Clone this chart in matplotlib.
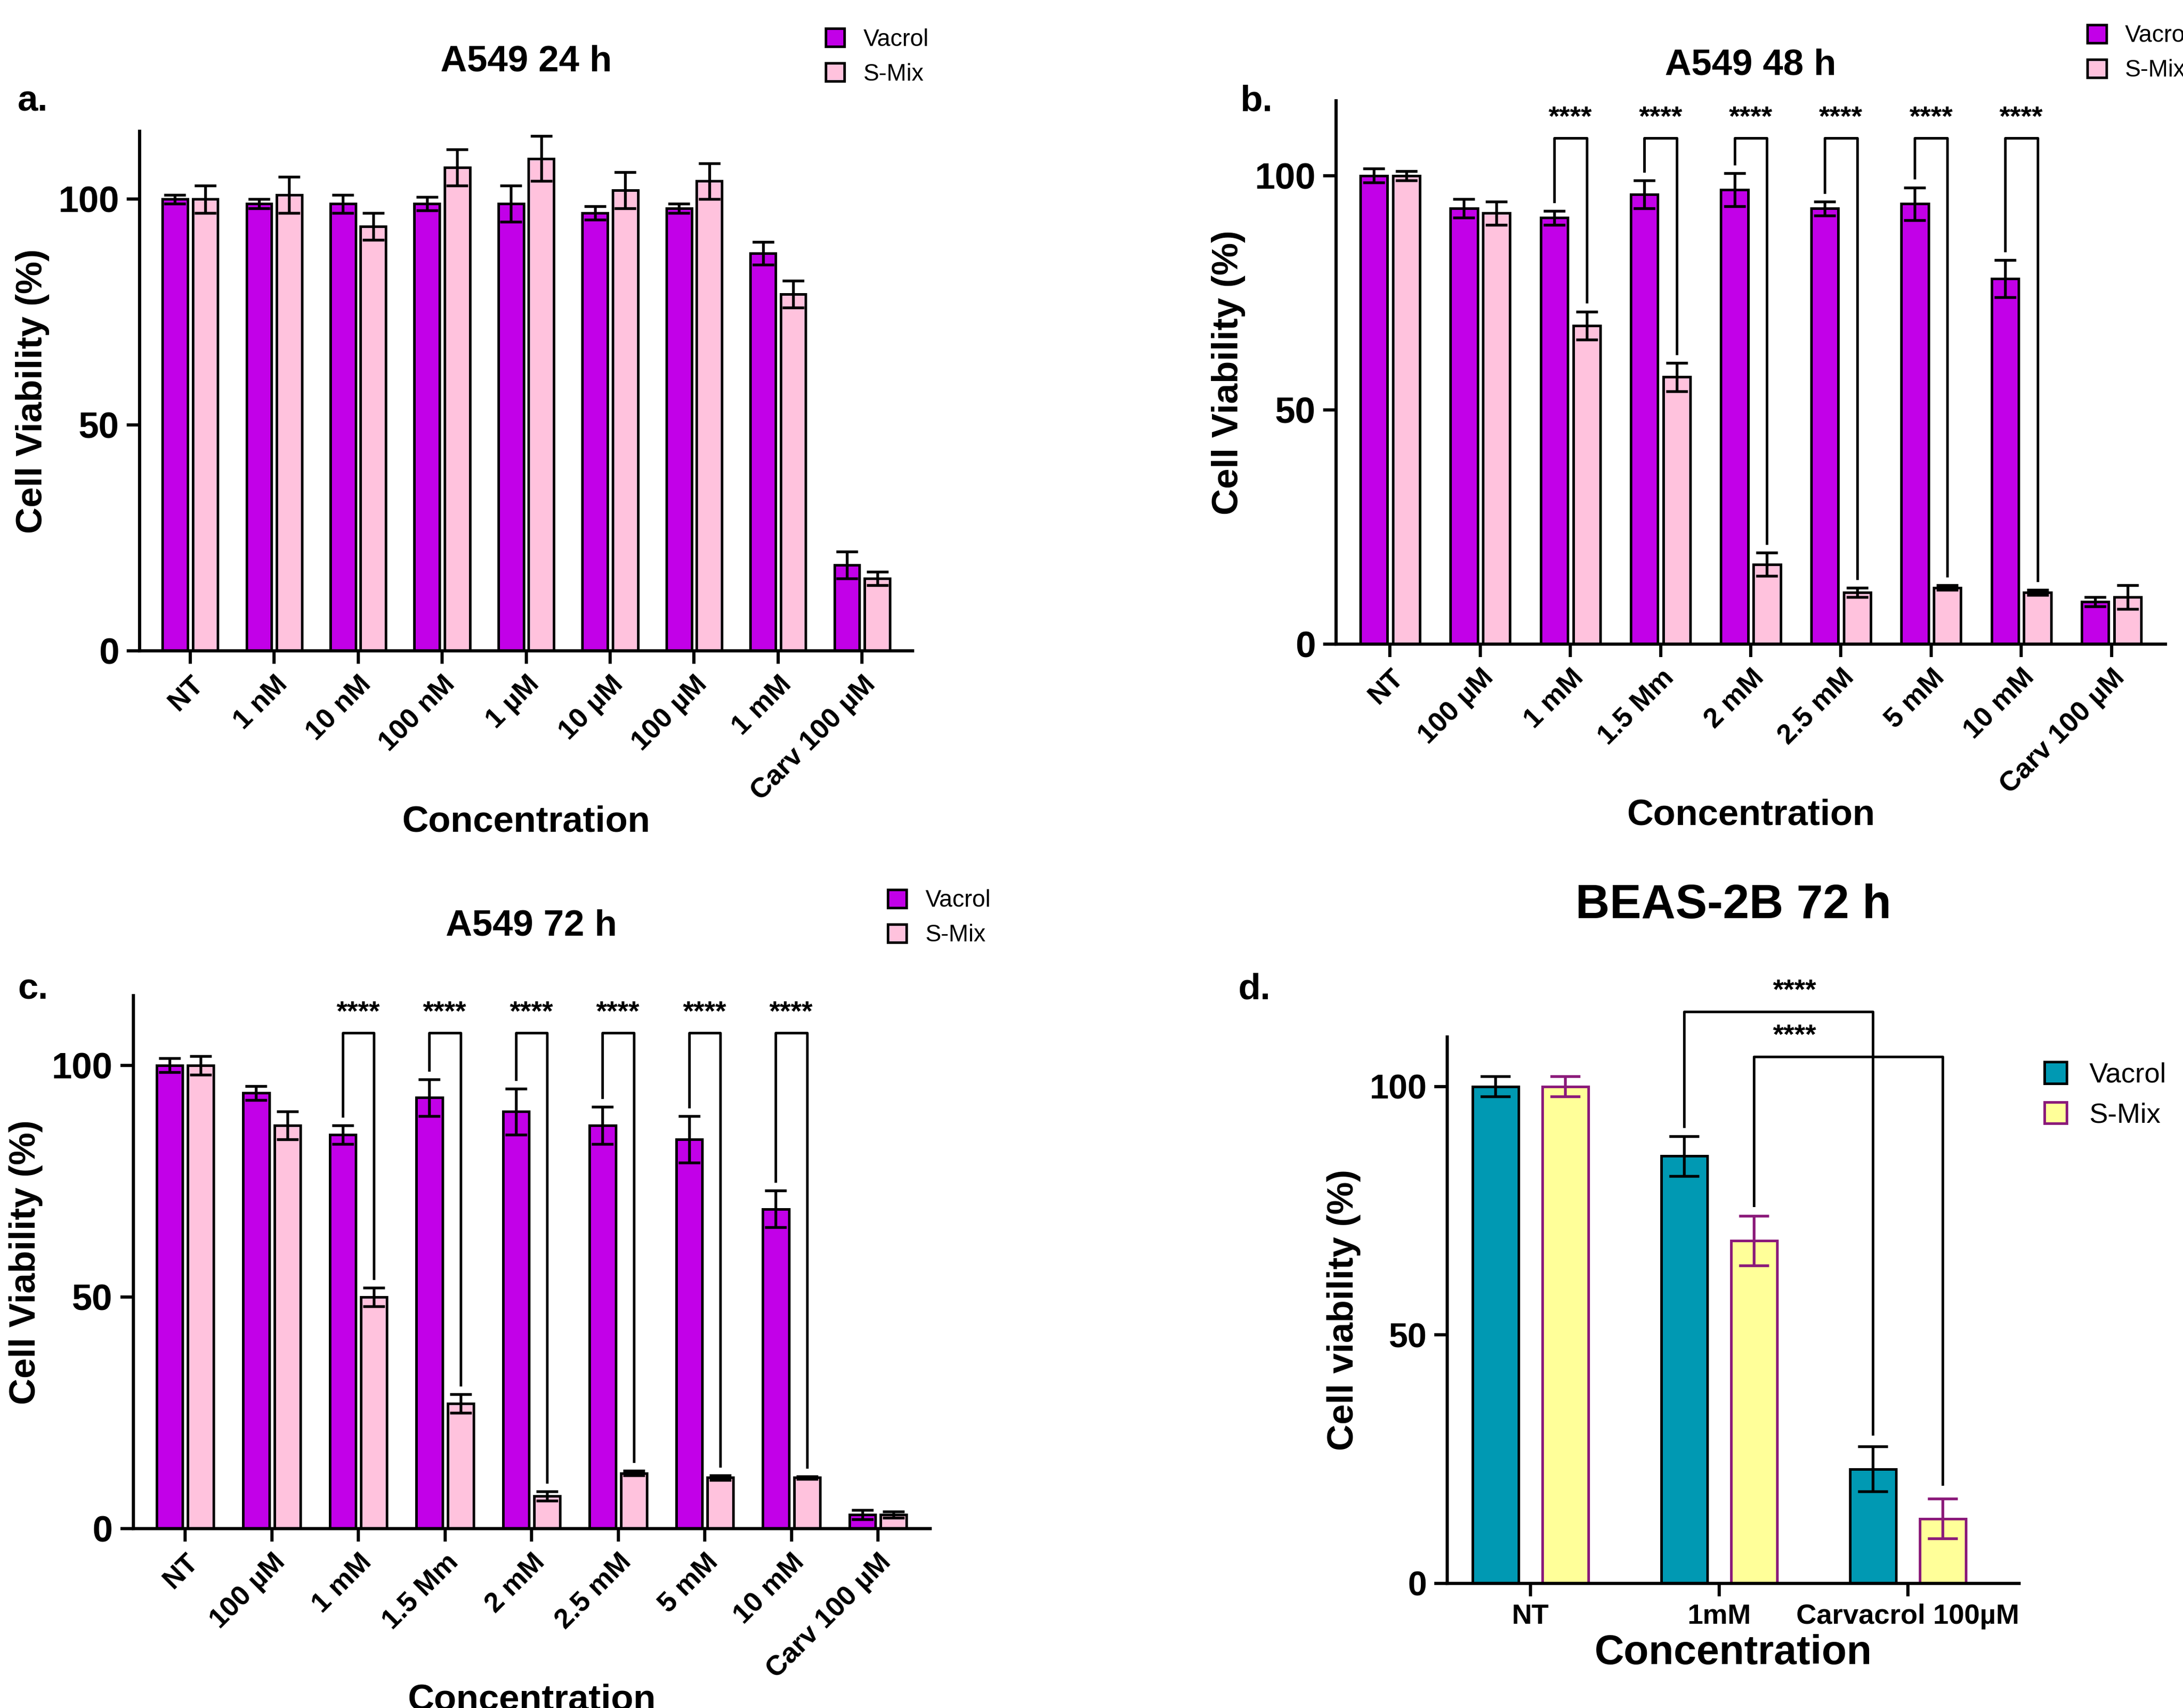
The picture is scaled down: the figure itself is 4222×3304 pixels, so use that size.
import numpy as np
from matplotlib import pyplot as plt

plt.rcParams['font.family'] = ['Liberation Sans', 'DejaVu Sans']
plt.rcParams['font.weight'] = 'bold'

PURPLE = '#C200E8'
PINK = '#FFC2DD'
TEAL = '#0099B3'
YELLOW = '#FFFF99'

lab_a = ['NT', '1 nM', '10 nM', '100 nM', '1 µM', '10 µM', '100 µM', '1 mM', 'Carv 100 µM']
va_a = [100, 99, 99, 99, 99, 97, 98, 88, 19]
va_a_err = [1, 1, 2, 1.5, 4, 1.5, 1, 2.5, 3]
sm_a = [100, 101, 94, 107, 109, 102, 104, 79, 16]
sm_a_err = [3, 4, 3, 4, 5, 4, 4, 3, 1.5]

lab_bc = ['NT', '100 µM', '1 mM', '1.5 Mm', '2 mM', '2.5 mM', '5 mM', '10 mM', 'Carv 100 µM']
va_b = [100, 93, 91, 96, 97, 93, 94, 78, 9]
va_b_err = [1.5, 2, 1.5, 3, 3.5, 1.5, 3.5, 4, 1]
sm_b = [100, 92, 68, 57, 17, 11, 12, 11, 10]
sm_b_err = [1, 2.5, 3, 3, 2.5, 1, 0.5, 0.5, 2.5]

va_c = [100, 94, 85, 93, 90, 87, 84, 69, 3]
va_c_err = [1.5, 1.5, 2, 4, 5, 4, 5, 4, 1]
sm_c = [100, 87, 50, 27, 7, 12, 11, 11, 3]
sm_c_err = [2, 3, 2, 2, 1, 0.5, 0.5, 0.3, 0.7]

lab_d = ['NT', '1mM', 'Carvacrol 100µM']
va_d = [100, 86, 23]
va_d_err = [2, 4, 4.5]
sm_d = [100, 69, 13]
sm_d_err = [2, 5, 4]

sig_groups = [2, 3, 4, 5, 6, 7]


def panel(ax, labels, va, va_err, sm, sm_err, title, top, sig_y=None, leg=(0.87, 1.22), pad=28):
    x = np.arange(len(labels))
    w = 0.3
    ek = dict(elinewidth=1.3, capsize=5, capthick=1.3, ecolor='black')
    ax.bar(x - 0.18, va, w, yerr=va_err, color=PURPLE, edgecolor='black', linewidth=1.2, error_kw=ek, label='Vacrol')
    ax.bar(x + 0.18, sm, w, yerr=sm_err, color=PINK, edgecolor='black', linewidth=1.2, error_kw=ek, label='S-Mix')
    if sig_y is not None:
        for i in sig_groups:
            y1 = va[i] + va_err[i] + 2
            y2 = sm[i] + sm_err[i] + 2
            ax.plot([i - 0.18, i - 0.18, i + 0.18, i + 0.18], [y1, sig_y, sig_y, y2], color='black', lw=1.2)
            ax.text(i, sig_y + 1.5, '****', ha='center', va='bottom', fontsize=13, fontweight='bold')
    ax.set_xlim(-0.6, len(labels) - 0.4)
    ax.set_ylim(0, top)
    ax.set_yticks([0, 50, 100])
    ax.set_xticks(x)
    ax.set_xticklabels(labels, rotation=45, ha='right', rotation_mode='anchor', fontsize=13, fontweight='bold')
    ax.tick_params(axis='y', labelsize=17, width=1.5, length=6)
    ax.tick_params(axis='x', width=1.5, length=6)
    for s in ['top', 'right']:
        ax.spines[s].set_visible(False)
    for s in ['left', 'bottom']:
        ax.spines[s].set_linewidth(1.5)
    ax.set_ylabel('Cell Viability (%)', fontsize=17, fontweight='bold')
    ax.set_xlabel('Concentration', fontsize=17, fontweight='bold', labelpad=0)
    ax.set_title(title, fontsize=17, fontweight='bold', pad=pad)
    ax.legend(loc='upper left', bbox_to_anchor=leg, frameon=False,
              handlelength=0.8, handleheight=0.8, prop={'weight': 'normal', 'size': 11})


fig = plt.figure(figsize=(4222 / 300, 3304 / 300), dpi=300)
ax_a = fig.add_axes([0.064, 0.619, 0.354, 0.304])
ax_b = fig.add_axes([0.612, 0.623, 0.380, 0.318])
ax_c = fig.add_axes([0.061, 0.105, 0.365, 0.312])
ax_d = fig.add_axes([0.663, 0.073, 0.262, 0.320])

panel(ax_a, lab_a, va_a, va_a_err, sm_a, sm_a_err, 'A549 24 h', 115, leg=(0.86, 1.24))
panel(ax_b, lab_bc, va_b, va_b_err, sm_b, sm_b_err, 'A549 48 h', 116, sig_y=108, leg=(0.88, 1.18), pad=12)
panel(ax_c, lab_bc, va_c, va_c_err, sm_c, sm_c_err, 'A549 72 h', 115, sig_y=107, leg=(0.92, 1.24))

# panel d
x = np.arange(len(lab_d))
off, bw = 0.185, 0.245
ek = dict(elinewidth=1.3, capsize=7, capthick=1.3)
ax_d.bar(x - off, va_d, bw, yerr=va_d_err, color=TEAL, edgecolor='black', linewidth=1.2,
         error_kw=dict(ek, ecolor='black'), label='Vacrol')
ax_d.bar(x + off, sm_d, bw, yerr=sm_d_err, color=YELLOW, edgecolor='#8B1A7A', linewidth=1.2,
         error_kw=dict(ek, ecolor='#8B1A7A'), label='S-Mix')
kw = dict(color='black', lw=1.2, clip_on=False)
ax_d.plot([1 - off, 1 - off, 2 - off, 2 - off], [92, 115, 115, 30], **kw)
ax_d.text(1.4, 116.5, '****', ha='center', va='bottom', fontsize=13, fontweight='bold')
ax_d.plot([1 + off, 1 + off, 2 + off, 2 + off], [76, 106, 106, 20], **kw)
ax_d.text(1.4, 107.5, '****', ha='center', va='bottom', fontsize=13, fontweight='bold')
ax_d.set_xlim(-0.44, 2.59)
ax_d.set_ylim(0, 110)
ax_d.set_yticks([0, 50, 100])
ax_d.set_xticks(x)
ax_d.set_xticklabels(lab_d, fontsize=13, fontweight='bold')
ax_d.tick_params(axis='y', labelsize=16, width=1.5, length=6)
ax_d.tick_params(axis='x', width=1.5, length=6)
for s in ['top', 'right']:
    ax_d.spines[s].set_visible(False)
for s in ['left', 'bottom']:
    ax_d.spines[s].set_linewidth(1.5)
ax_d.set_ylabel('Cell viability (%)', fontsize=17, fontweight='bold')
ax_d.set_xlabel('Concentration', fontsize=19, fontweight='bold', labelpad=2)
ax_d.set_title('BEAS-2B 72 h', fontsize=22, fontweight='bold', pad=55)
ax_d.legend(loc='upper left', bbox_to_anchor=(1.0, 1.0), frameon=False,
            handlelength=0.8, handleheight=0.8, prop={'weight': 'normal', 'size': 13})

for lbl, (fx, fy) in zip(['a.', 'b.', 'c.', 'd.'], [(0.008, 0.935), (0.568, 0.935), (0.008, 0.415), (0.567, 0.415)]):
    fig.text(fx, fy, lbl, fontsize=17, fontweight='bold')

fig.savefig('out.png', dpi=300)
